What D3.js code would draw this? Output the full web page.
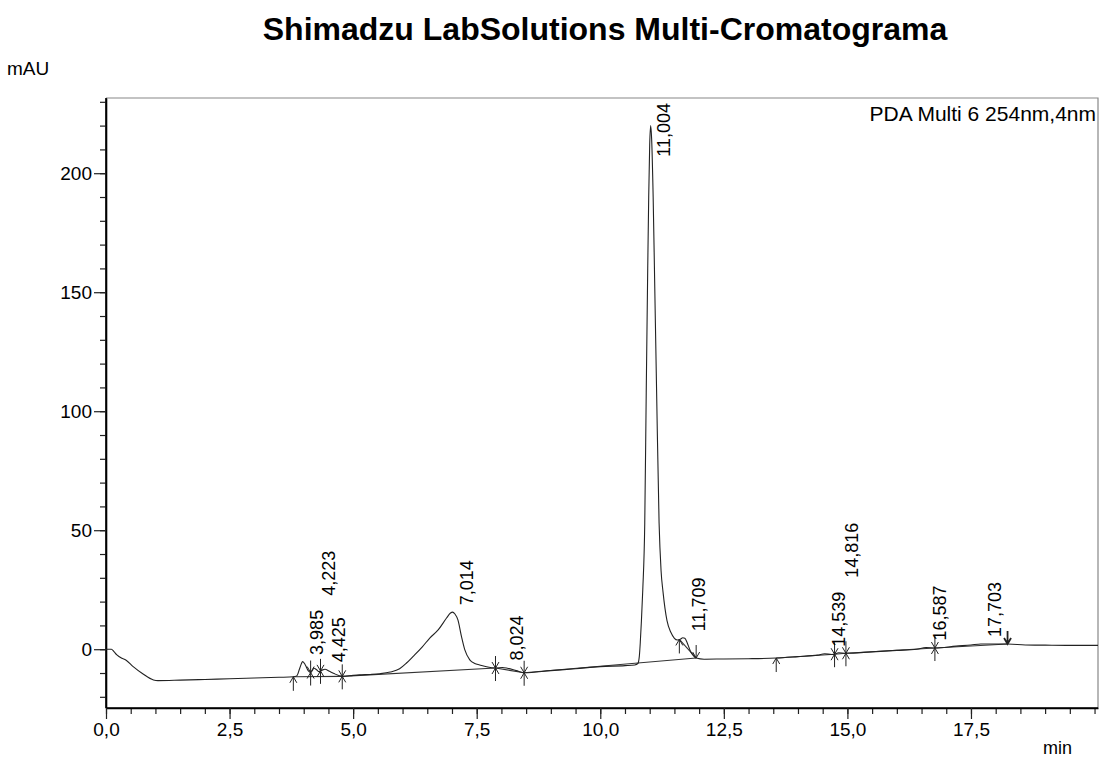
<!DOCTYPE html>
<html><head><meta charset="utf-8">
<script src="https://cdn.jsdelivr.net/npm/d3@7"></script>
<style>
body{margin:0;background:#fff}
svg{display:block}
text{font-family:"Liberation Sans",Arial,Helvetica,sans-serif;fill:#000}
</style>
</head><body>
<svg id="chart" width="1099" height="763"></svg>
<script>
// ---- data ----
const traceTime = [0.00,0.11,0.16,0.22,0.32,0.40,0.55,0.75,0.96,1.05,1.50,2.00,2.50,3.00,3.50,3.79,3.86,3.92,3.98,4.03,4.09,4.14,4.21,4.26,4.31,4.37,4.43,4.52,4.60,4.78,5.00,5.13,5.35,5.54,5.75,5.94,6.08,6.21,6.40,6.55,6.72,6.89,6.97,7.01,7.06,7.12,7.19,7.26,7.36,7.46,7.56,7.70,7.88,8.02,8.12,8.30,8.46,9.00,9.50,10.00,10.50,10.70,10.76,10.79,10.81,10.83,10.86,10.90,10.93,10.96,10.98,11.00,11.02,11.04,11.07,11.10,11.14,11.19,11.23,11.27,11.35,11.43,11.50,11.56,11.62,11.67,11.71,11.76,11.82,11.88,11.94,12.10,12.50,13.00,13.56,14.00,14.40,14.54,14.68,14.74,14.82,14.97,15.50,16.00,16.40,16.59,16.77,17.20,17.50,17.70,18.00,18.24,18.60,19.00,19.50,20.07];
const traceMAU  = [0,0,-1.0,-2.4,-3.8,-4.5,-7.3,-10.4,-12.9,-13.2,-13.0,-12.7,-12.4,-12.1,-11.8,-11.6,-11.2,-8.0,-5.2,-6.5,-9.0,-9.8,-8.0,-8.6,-9.4,-8.8,-8.4,-9.3,-10.1,-11.4,-11.0,-10.8,-10.6,-10.3,-9.6,-8.2,-5.8,-3.1,1.0,4.7,8.1,13.1,15.2,15.6,14.8,12.3,5.5,-0.3,-4.5,-6.0,-6.6,-7.4,-7.9,-7.7,-8.0,-9.0,-9.9,-9.0,-8.2,-7.3,-6.9,-6.6,-6.0,-3.0,3.0,10.9,25,53,108,160,190,212,220,214,190,155,108,53,33,24,12,7,4.6,3.9,4.2,4.8,4.6,2.6,-0.6,-2.6,-3.7,-4.2,-4.1,-4.0,-3.7,-3.1,-2.5,-1.9,-2.2,-2.1,-1.5,-1.7,-1.1,-0.5,0.0,0.7,0.5,1.3,1.8,2.2,2.2,2.2,1.8,1.7,1.6,1.6];

const peakTimes  = [3.985,4.223,4.425,7.014,8.024,11.004,11.709,14.539,14.816,16.587,17.703];
const peakLabels = ["3,985","4,223","4,425","7,014","8,024","11,004","11,709","14,539","14,816","16,587","17,703"];

const markerTimes = [3.79,4.14,4.34,4.78,7.88,8.46,11.60,11.94,13.56,14.74,14.97,16.77,18.24];
const markerTypes = ["start","both","both","both","both","both","start","end","start","both","both","both","end"];

const baselineStarts = [3.79,4.78,7.88,8.46,11.60,13.56,14.74,14.97,16.77];
const baselineEnds   = [4.78,7.88,8.46,11.94,11.94,14.74,14.97,16.77,18.24];

const timeTicks  = [0,2.5,5,7.5,10,12.5,15,17.5];
const timeTickLabels = ["0,0","2,5","5,0","7,5","10,0","12,5","15,0","17,5"];
const mAUTicks   = [0,50,100,150,200];
const mAUTickLabels = ["0","50","100","150","200"];

const titleText  = "Shimadzu LabSolutions Multi-Cromatograma";
const legendText = "PDA Multi 6 254nm,4nm";
const yUnit = "mAU", xUnit = "min";

// ---- layout ----
const svg = d3.select("#chart");
const L = 106, R = 1098, T = 98, B = 708;
const x = d3.scaleLinear().domain([0, 20.07]).range([L, R]);
const y = d3.scaleLinear().domain([-24.7, 231.6]).range([B, T]);

const interp = t => {
  const i = d3.bisectRight(traceTime, t);
  if (i <= 0) return traceMAU[0];
  if (i >= traceTime.length) return traceMAU[traceMAU.length-1];
  const t0 = traceTime[i-1], t1 = traceTime[i];
  return traceMAU[i-1] + (traceMAU[i]-traceMAU[i-1])*(t-t0)/(t1-t0);
};

// frame (top/right)
svg.append("path")
  .attr("d", `M${L},${T}H${R}V${B}`)
  .attr("fill","none").attr("stroke","#888").attr("stroke-width",1.2);

// axes
const fmtY = d => mAUTickLabels[mAUTicks.indexOf(d)];
const fmtX = d => timeTickLabels[timeTicks.indexOf(d)];

const yMinor = svg.append("g").attr("transform",`translate(${L},0)`)
  .call(d3.axisLeft(y).tickValues(d3.range(-20, 231, 10)).tickSize(6).tickSizeOuter(0).tickFormat(""));
const yMajor = svg.append("g").attr("transform",`translate(${L},0)`)
  .call(d3.axisLeft(y).tickValues(mAUTicks).tickSize(12).tickSizeOuter(0).tickPadding(2).tickFormat(fmtY));
const xMinor = svg.append("g").attr("transform",`translate(0,${B})`)
  .call(d3.axisBottom(x).tickValues(d3.range(0, 20.01, 0.5)).tickSize(6).tickSizeOuter(0).tickFormat(""));
const xMajor = svg.append("g").attr("transform",`translate(0,${B})`)
  .call(d3.axisBottom(x).tickValues(timeTicks).tickSize(11).tickSizeOuter(0).tickPadding(4).tickFormat(fmtX));

[yMinor,yMajor,xMinor,xMajor].forEach(g=>{
  g.selectAll("line").attr("stroke","#222").attr("stroke-width",1.2);
  g.select(".domain").attr("stroke","#000").attr("stroke-width",1.6);
  g.selectAll("text").style("font-size","19px").attr("fill","#000");
});
yMinor.select(".domain").attr("d", `M0,${T}V${B}`);
xMinor.select(".domain").attr("d", `M${L},0H${R}`);

// baselines
svg.append("g").selectAll("line").data(baselineStarts).join("line")
  .attr("x1", d => x(d)).attr("y1", d => y(interp(d)))
  .attr("x2", (d,i) => x(baselineEnds[i])).attr("y2", (d,i) => y(interp(baselineEnds[i])))
  .attr("stroke","#333").attr("stroke-width",1.1);

// trace
const pts = traceTime.map((t,i)=>[t, traceMAU[i]]);
svg.append("path")
  .datum(pts)
  .attr("d", d3.line().x(d=>x(d[0])).y(d=>y(d[1])).curve(d3.curveMonotoneX))
  .attr("fill","none").attr("stroke","#222").attr("stroke-width",1.1);

// markers
const mk = svg.append("g").attr("stroke","#222").attr("stroke-width",1).attr("fill","none");
markerTimes.forEach((t,i)=>{
  const px = x(t), py = y(interp(t)), type = markerTypes[i];
  let d = "";
  if (type === "start") {
    d = `M${px},${py}V${py+14}M${px-3.5},${py+6}L${px},${py}L${px+3.5},${py+6}`;
  } else if (type === "end") {
    d = `M${px},${py-13}V${py}M${px-3.5},${py-6}L${px},${py}L${px+3.5},${py-6}`;
  } else {
    d = `M${px},${py-12}V${py+13}M${px-3.5},${py-6}L${px},${py}L${px+3.5},${py-6}M${px-3.5},${py+6}L${px},${py}L${px+3.5},${py+6}`;
  }
  mk.append("path").attr("d", d).attr("stroke-width", type==="end" && i===markerTimes.length-1 ? 1.8 : 1);
});

// peak labels with simple stacking
const placed = [];
const labG = svg.append("g");
peakTimes.forEach((t,i)=>{
  const ax = x(t), ay = y(interp(t));
  const txt = labG.append("text").text(peakLabels[i]).style("font-size","18px");
  const len = txt.node().getComputedTextLength();
  let bottom = ay - 7;
  if (bottom - len < T + 5) bottom = T + 5 + len;
  let moved = true;
  while (moved) {
    moved = false;
    for (const p of placed) {
      if (Math.abs(p.x - ax) < 16 && bottom > p.top - 2 && bottom - len < p.bottom) {
        bottom = p.top - 14; moved = true;
      }
    }
  }
  placed.push({x: ax, top: bottom - len, bottom});
  txt.attr("transform", `translate(${ax+20},${bottom}) rotate(-90)`);
});

// texts
svg.append("text").attr("x",605).attr("y",40).attr("text-anchor","middle")
  .style("font-size","32px").style("font-weight","bold").text(titleText);
svg.append("text").attr("x",7).attr("y",75).style("font-size","19px").text(yUnit);
svg.append("text").attr("x",1043).attr("y",754).style("font-size","18px").text(xUnit);
svg.append("text").attr("x",1096).attr("y",121).attr("text-anchor","end")
  .style("font-size","21px").text(legendText);
</script>
</body></html>
